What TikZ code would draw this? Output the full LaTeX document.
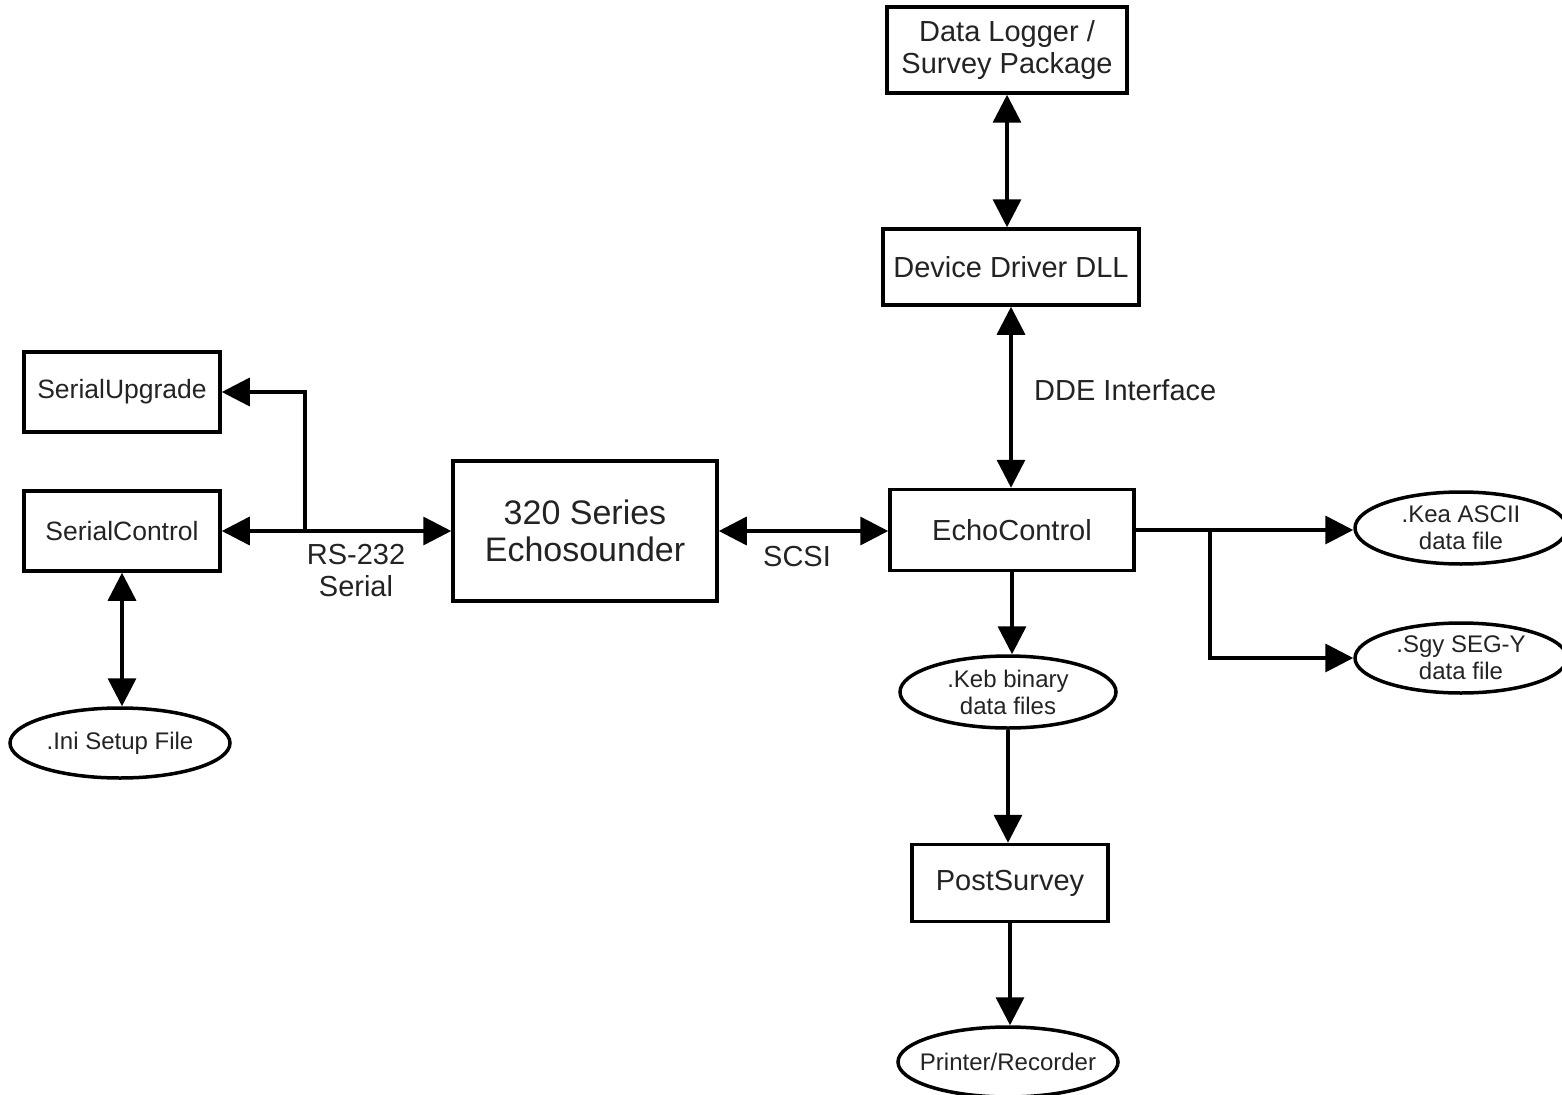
\documentclass[tikz,border=0pt]{standalone}
\usepackage{fontspec}
\setmainfont{Liberation Sans}
\usetikzlibrary{arrows.meta,shapes.geometric,calc}
\definecolor{txt}{RGB}{35,35,35}
\begin{document}
\begin{tikzpicture}[x=1pt,y=-1pt,
  box/.style={draw, line width=3.5pt, inner sep=0pt, align=center, text=txt, font=\fontsize{29}{32}\selectfont},
  oval/.style={draw, ellipse, line width=3.5pt, inner xsep=-16pt, inner ysep=-10pt, align=center, text=txt, font=\fontsize{24}{27}\selectfont},
  conn/.style={line width=3.5pt},
  arr/.style={conn, -{Triangle[length=28pt,width=28pt]}},
  dbl/.style={conn, {Triangle[length=28pt,width=28pt]}-{Triangle[length=28pt,width=28pt]}},
  lbl/.style={inner sep=0pt, align=center, text=txt, font=\fontsize{29}{32}\selectfont}]
\useasboundingbox (0,0) rectangle (1562,1094);
% boxes
\node[box, minimum width=240pt, minimum height=86pt] (dl) at (1007,50) {Data Logger /\\Survey Package};
\node[box, minimum width=256pt, minimum height=76pt] (ddl) at (1011,267) {Device Driver DLL};
\node[box, font=\fontsize{26.5}{30}\selectfont, minimum width=196pt, minimum height=80pt] (su) at (122,392) {SerialUpgrade};
\node[box, font=\fontsize{26.5}{30}\selectfont, minimum width=196pt, minimum height=80pt] (sc) at (122,531) {SerialControl};
\node[box, font=\fontsize{34}{37}\selectfont, minimum width=264pt, minimum height=140pt] (es) at (585,531) {320 Series\\Echosounder};
\node[box, minimum width=244pt, minimum height=81pt] (ec) at (1012,530) {EchoControl};
\node[box, minimum width=196pt, minimum height=77pt] (ps) at (1010,883) {PostSurvey};
% ovals
\node[oval, minimum width=220pt, minimum height=70pt] (ini) at (120,743) {.Ini Setup File};
\node[oval, minimum width=216pt, minimum height=72pt] (keb) at (1008,692) {.Keb binary\\data files};
\node[oval, minimum width=220pt, minimum height=70pt] (pr) at (1008,1062) {Printer/Recorder};
\node[oval, minimum width=212pt, minimum height=72pt] (kea) at (1461,528) {.Kea ASCII\\data file};
\node[oval, minimum width=212pt, minimum height=70pt] (sgy) at (1461,658) {.Sgy SEG-Y\\data file};
% labels
\node[lbl] (rs) at (356,571) {RS-232\\Serial};
\node[lbl] (scsi) at (797,557) {SCSI};
\node[lbl, anchor=west] (dde) at (1034,390) {DDE Interface};
% connectors
\draw[dbl] (dl.south) -- (dl.south |- ddl.north);
\draw[dbl] (ddl.south) -- (ddl.south |- ec.north);
\draw[dbl] (sc.south) -- (sc.south |- ini.north);
\draw[dbl] (sc.east) -- (es.west);
\coordinate (j1) at (305,531);
\draw[arr] (j1) |- (su.east);
\draw[dbl] (es.east) -- (es.east -| ec.west);
\draw[arr] (ec.south) -- (ec.south |- keb.north);
\draw[arr] (keb.south) -- (keb.south |- ps.north);
\draw[arr] (ps.south) -- (ps.south |- pr.north);
\draw[arr] (ec.east) -- (ec.east -| kea.west);
\path (ec.east) ++(74,0) coordinate (j2);
\draw[arr] (j2) |- (sgy.west);
\end{tikzpicture}
\end{document}
